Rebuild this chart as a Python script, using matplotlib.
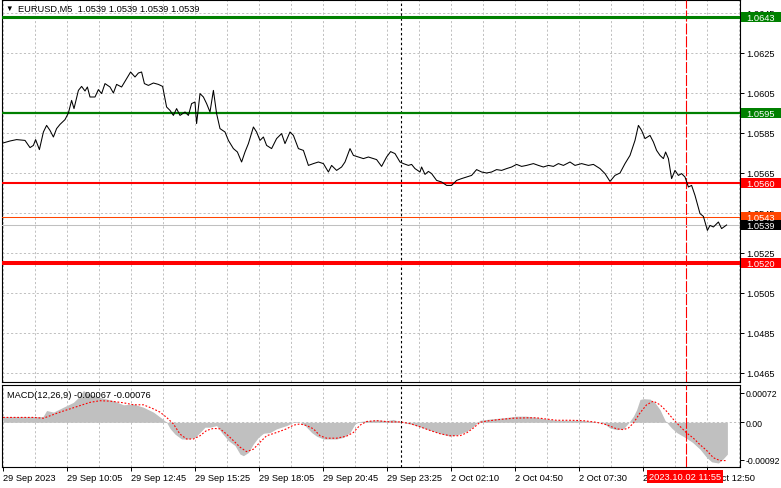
import numpy as np
import matplotlib
matplotlib.use('Agg')
import matplotlib.pyplot as plt
from matplotlib.ticker import MultipleLocator, FixedLocator
from matplotlib.patches import Rectangle

plt.rcParams['font.family'] = ['Liberation Sans', 'DejaVu Sans']

# ---- data (x = M5 bar number from the left) ----
price_bar = [0, 3.5, 6.8, 11, 13.5, 15.2, 16.3, 18.2, 20.2, 21.8, 23.5, 25.2, 26.8, 28.5, 31, 32.7,
             34.3, 35.5, 37.7, 39.3, 41, 42.2, 43.5, 46, 47.7, 49.3, 51, 53.5, 55.2, 56.8, 59.3, 61.8,
             63.8, 66, 67.7, 69.3, 70.7, 72.7, 75.2, 77.7, 79.8, 81.8, 83.5, 85.2, 86.8, 88.5, 91, 92.7,
             94.3, 96, 96.8, 98.5, 100.2, 101.8, 103.5, 105.2, 106.8, 108.5, 111, 112.7, 115.2, 117.2,
             119.3, 121, 122.7, 125.2, 126.8, 128.5, 130.2, 131.8, 134.3, 136.8, 139.3, 141, 143.5, 145.2,
             147.7, 150.2, 152.7, 155.2, 157.7, 160.2, 162.7, 164.3, 166.8, 169.3, 171, 173.5, 175.2, 177.7,
             180.2, 182.7, 186.8, 189.3, 191.8, 193.8, 196, 198.5, 200.2, 202.7, 204.3, 206, 208.5, 209.3,
             211, 212.7, 214.3, 216.8, 219.3, 221.8, 224.3, 226.8, 229.3, 231.8, 234.3, 236.8, 239.3, 241.8,
             244.3, 246.8, 249.3, 251.8, 254.3, 256.8, 259.3, 261.8, 265.2, 267.7, 270.2, 272.7, 275.2, 277.7,
             280.2, 283.5, 286, 289.3, 292.7, 295.2, 298.5, 301, 303.5, 306, 308.5, 311, 313.5, 316, 317.7,
             319.3, 321, 323.5, 325.2, 326.8, 328.5, 330.2, 331.3, 332.7, 334.3, 336, 337.7, 339.3, 341,
             342.7, 344.3, 346, 348.5, 350.2, 352.2, 353.5, 355.2, 357.7, 359.3, 361.8]
price_close = [1.05800, 1.05810, 1.05817, 1.05813, 1.05777, 1.05788, 1.05817, 1.05767, 1.05855, 1.05888,
               1.05863, 1.05830, 1.05872, 1.05893, 1.05917, 1.05950, 1.06013, 1.05972, 1.06063, 1.06083,
               1.06060, 1.06080, 1.06030, 1.06030, 1.06067, 1.06047, 1.06097, 1.06080, 1.06050, 1.06093,
               1.06080, 1.06122, 1.06155, 1.06130, 1.06150, 1.06155, 1.06097, 1.06088, 1.06100, 1.06093,
               1.06083, 1.05980, 1.05963, 1.05938, 1.05972, 1.05938, 1.05955, 1.05938, 1.05997, 1.06005,
               1.05897, 1.06047, 1.06030, 1.05997, 1.05955, 1.06063, 1.05947, 1.05872, 1.05855, 1.05813,
               1.05772, 1.05755, 1.05705, 1.05755, 1.05797, 1.05880, 1.05855, 1.05813, 1.05830, 1.05788,
               1.05772, 1.05822, 1.05847, 1.05797, 1.05855, 1.05838, 1.05772, 1.05763, 1.05688, 1.05697,
               1.05705, 1.05697, 1.05655, 1.05688, 1.05663, 1.05680, 1.05705, 1.05772, 1.05738, 1.05730,
               1.05722, 1.05730, 1.05717, 1.05683, 1.05730, 1.05757, 1.05747, 1.05705, 1.05697, 1.05688,
               1.05693, 1.05672, 1.05655, 1.05680, 1.05643, 1.05658, 1.05647, 1.05613, 1.05605, 1.05588,
               1.05588, 1.05613, 1.05622, 1.05630, 1.05638, 1.05667, 1.05655, 1.05650, 1.05655, 1.05667,
               1.05663, 1.05672, 1.05680, 1.05693, 1.05683, 1.05688, 1.05697, 1.05688, 1.05680, 1.05688,
               1.05683, 1.05697, 1.05688, 1.05705, 1.05688, 1.05697, 1.05688, 1.05693, 1.05672, 1.05647,
               1.05608, 1.05638, 1.05650, 1.05697, 1.05738, 1.05813, 1.05888, 1.05863, 1.05822, 1.05838,
               1.05805, 1.05763, 1.05738, 1.05722, 1.05755, 1.05722, 1.05622, 1.05663, 1.05638, 1.05647,
               1.05630, 1.05580, 1.05588, 1.05538, 1.05447, 1.05433, 1.05363, 1.05388, 1.05380, 1.05405,
               1.05372, 1.05390]

macd_bar = [0, 15, 20, 21.8, 25.2, 28.5, 31.8, 35.2, 37.7, 40.2, 42.7, 48.5, 55.2, 60.2, 65.2, 70.2,
            75.2, 79.3, 81.8, 83.5, 86, 89.3, 92.7, 96, 98.5, 101, 103.5, 106.8, 109.3, 112.7, 116,
            118.5, 120.2, 122.7, 125.2, 127.7, 130.2, 133.5, 136.8, 141.8, 144.3, 146, 148.5, 151,
            154.3, 156.8, 160.2, 166.8, 170.2, 173.5, 176, 178.5, 181.8, 186.8, 191.8, 195.2, 198.5,
            205.2, 210.2, 215.2, 220.2, 223.5, 227.7, 231.8, 235.2, 238.5, 243.5, 250.2, 256.8, 261.8,
            266.8, 271.8, 276.8, 288.5, 295.2, 300.2, 303.5, 306.8, 310.2, 312.7, 315.2, 316.8, 318.5,
            320.2, 323.5, 326, 328.5, 331, 332.7, 334.3, 336.8, 341, 344.7, 348.5, 351.8, 354.3, 357.7,
            360, 362.2]
macd_main = [0.00014, 0.00014, 0.00014, 0.00029, 0.00025, 0.00033, 0.00041, 0.00049, 0.00061, 0.00078,
             0.00070, 0.00061, 0.00053, 0.00043, 0.00045, 0.00037, 0.00025, 0.00010, 0.0, -0.00015,
             -0.00029, -0.00041, -0.00041, -0.00037, -0.00025, -0.00012, -0.00012, -0.00008, -0.00025,
             -0.00045, -0.00057, -0.00078, -0.00082, -0.00074, -0.00053, -0.00037, -0.00027, -0.00025,
             -0.00016, -0.00008, -0.00002, 0.00002, 0.0, -0.00008, -0.00025, -0.00034, -0.00041, -0.00041,
             -0.00037, -0.00025, -0.00004, 0.00002, 0.00004, 0.00006, 0.00004, 0.00007, 0.00001, -0.00006,
             -0.00014, -0.00022, -0.00030, -0.00034, -0.00030, -0.00022, -0.00010, 0.00005, 0.00008,
             0.00011, 0.00015, 0.00015, 0.00012, 0.00008, 0.00005, 0.00005, 0.00002, -0.00002, -0.00014,
             -0.00018, -0.00016, -0.00002, 0.00015, 0.00031, 0.00056, 0.00058, 0.00057, 0.00048, 0.00031,
             0.00005, -0.00005, -0.00014, -0.00025, -0.00037, -0.00049, -0.00066, -0.00086, -0.00097,
             -0.00100, -0.00090, -0.00078]

signal_bar = [0, 15.2, 20.2, 23.5, 28.5, 33.5, 38.5, 43.5, 48.5, 53.5, 60.2, 65.2, 70.2, 75.2, 78.5,
              81.8, 85.2, 88.5, 91.8, 95.2, 98.5, 101.8, 105.2, 108.5, 111.8, 115.2, 118.5, 121.8, 125.2,
              128.5, 131.8, 136.8, 141.8, 145.2, 148.5, 151.8, 155.2, 158.5, 161.8, 166.8, 171.8, 175.2,
              178.5, 181.8, 186.8, 193.5, 198.5, 203.5, 208.5, 213.5, 218.5, 223.5, 228.5, 231.8, 235.2,
              238.5, 241.8, 248.5, 255.2, 261.8, 266.8, 271.8, 276.8, 283.5, 290.2, 296.8, 301.8, 306.8,
              310.2, 312.7, 315.2, 318.5, 321.8, 325.2, 328.5, 331.8, 335.2, 338.5, 341.8, 345.2, 348.5,
              351.8, 355.2, 358.5, 361.8]
macd_signal = [0.00012, 0.00012, 0.00010, 0.00016, 0.00025, 0.00033, 0.00041, 0.00049, 0.00053, 0.00052,
               0.00048, 0.00043, 0.00043, 0.00033, 0.00025, 0.00012, -0.00004, -0.00029, -0.00041, -0.00041,
               -0.00033, -0.00020, -0.00015, -0.00016, -0.00029, -0.00045, -0.00061, -0.00072, -0.00066,
               -0.00049, -0.00033, -0.00025, -0.00016, -0.00007, -0.00004, -0.00008, -0.00016, -0.00033,
               -0.00039, -0.00039, -0.00034, -0.00025, -0.00007, 0.00002, 0.00004, 0.00001, 0.00001,
               -0.00003, -0.00011, -0.00020, -0.00028, -0.00033, -0.00033, -0.00026, -0.00014, 0.0,
               0.00003, 0.00007, 0.00010, 0.00011, 0.00011, 0.00008, 0.00005, 0.00005, 0.00004, 0.0,
               -0.00006, -0.00016, -0.00018, -0.00014, -0.00002, 0.00023, 0.00043, 0.00052, 0.00043,
               0.00027, 0.00007, -0.00010, -0.00026, -0.00039, -0.00055, -0.00069, -0.00087, -0.00094,
               -0.00094]

green_levels = [1.0643, 1.0595]
red_levels = [1.0560, 1.0520]
ask_price = 1.0543
bid_price = 1.0539

price_ticks = [1.0645, 1.0625, 1.0605, 1.0585, 1.0565, 1.0545, 1.0525, 1.0505, 1.0485, 1.0465]
macd_ticks = [0.00072, 0.0, -0.00092]
macd_tick_labels = ['0.00072', '0.00', '-0.00092']
time_ticks = [0, 32, 64, 96, 128, 160, 192, 224, 256, 288, 320, 352]
time_labels = ['29 Sep 2023', '29 Sep 10:05', '29 Sep 12:45', '29 Sep 15:25', '29 Sep 18:05',
               '29 Sep 20:45', '29 Sep 23:25', '2 Oct 02:10', '2 Oct 04:50', '2 Oct 07:30',
               '2 Oct 10:10', '2 Oct 12:50']
day_separator = 199
cursor_bar = 341.5
cursor_text = '2023.10.02 11:55'

# ---- figure layout in pixels ----
W, H = 781, 489
fig = plt.figure(figsize=(W / 100, H / 100), dpi=100)
fig.patch.set_facecolor('white')

def box(x0, y0, x1, y1):
    return [x0 / W, 1 - y1 / H, (x1 - x0) / W, (y1 - y0) / H]

ax = fig.add_axes(box(2, 1, 740, 383))
ax2 = fig.add_axes(box(2, 386, 740, 467.7))

FS = 6.7
grid_kw = dict(color='#c0c0c0', lw=0.7, ls=(0, (2.2, 2.2)))

for a in (ax, ax2):
    a.set_xlim(-0.5, 368.5)
    for s in a.spines.values():
        s.set_linewidth(0.8)
        s.set_color('black')
    a.yaxis.tick_right()
    a.tick_params(axis='y', direction='out', length=3, width=0.7, labelsize=FS, pad=1.5)
    a.xaxis.set_major_locator(FixedLocator(time_ticks))
    a.xaxis.set_minor_locator(MultipleLocator(16))
    a.grid(True, which='both', axis='x', **grid_kw)
    a.set_axisbelow(True)
    a.axvline(day_separator, color='black', lw=0.8, ls=(0, (2.2, 2.2)), zorder=3)
    a.axvline(cursor_bar, color='red', lw=0.8, ls=(0, (10, 1.6)), zorder=3)

# ---- main price panel ----
ax.set_ylim(1.0625 - 329 / 20000, 1.0625 + 53 / 20000)
ax.set_yticks(price_ticks)
ax.yaxis.set_major_formatter(plt.FormatStrFormatter('%.4f'))
ax.grid(True, which='major', axis='y', **grid_kw)
ax.tick_params(axis='x', which='both', bottom=False, labelbottom=False)

ax.plot(price_bar, price_close, color='black', lw=0.75, zorder=4)

ax.axhline(green_levels[0], color='#008000', lw=2.2, zorder=3)
ax.axhline(green_levels[1], color='#008000', lw=1.6, zorder=3)
ax.axhline(red_levels[0], color='#ff0000', lw=1.5, zorder=3)
ax.axhline(red_levels[1], color='#ff0000', lw=2.9, zorder=3)
ax.axhline(ask_price, color='#ff4500', lw=0.75, zorder=3)
ax.axhline(bid_price, color='#c0c0c0', lw=0.75, zorder=3)

def price_tag(y, text, face):
    tr = ax.get_yaxis_transform()
    ax.add_patch(Rectangle((1 + 1 / 738, y - 0.00025), 42 / 738, 0.0005, transform=tr,
                           facecolor=face, edgecolor='none', clip_on=False, zorder=6))
    ax.text(1 + 6 / 738, y, text, transform=tr, color='white', fontsize=FS,
            ha='left', va='center_baseline', clip_on=False, zorder=7)

price_tag(green_levels[0], '%.4f' % green_levels[0], '#008000')
price_tag(green_levels[1], '%.4f' % green_levels[1], '#008000')
price_tag(red_levels[0], '%.4f' % red_levels[0], '#ff0000')
price_tag(ask_price, '%.4f' % ask_price, '#ff4500')
price_tag(bid_price, '%.4f' % bid_price, 'black')
price_tag(red_levels[1], '%.4f' % red_levels[1], '#ff0000')

# ---- MACD panel ----
ax2.set_ylim(-0.00109, 0.000916)
ax2.set_yticks(macd_ticks, macd_tick_labels)
ax2.tick_params(axis='y', labelsize=6.3, pad=1)
ax2.axhline(0, **grid_kw, zorder=1)
ax2.fill_between(macd_bar, 0, macd_main, color='#c0c0c0', lw=0, zorder=2)
ax2.plot(signal_bar, macd_signal, color='red', lw=0.8, ls=(0, (1.6, 1.6)), zorder=4)
ax2.set_xticks(time_ticks, time_labels)
ax2.tick_params(axis='x', which='major', direction='out', length=3, width=0.7, labelsize=FS, pad=1.5)
ax2.tick_params(axis='x', which='minor', length=0)
for lbl in ax2.get_xticklabels():
    lbl.set_horizontalalignment('left')

# ---- texts ----
fig.text(5 / W, 1 - 9.5 / H, '\u25bc', fontsize=5.5, va='center', ha='left')
fig.text(18 / W, 1 - 9.5 / H, 'EURUSD,M5  1.0539 1.0539 1.0539 1.0539', fontsize=FS,
         va='center', ha='left')
fig.text(7 / W, 1 - 396 / H, 'MACD(12,26,9) -0.00067 -0.00076', fontsize=FS, va='center', ha='left')
fig.text(685 / W, 1 - 477.5 / H, cursor_text, fontsize=FS, color='white', va='center', ha='center',
         bbox=dict(boxstyle='square,pad=0.25', facecolor='#ff0000', edgecolor='none'), zorder=10)

fig.savefig('out.png', dpi=100)
